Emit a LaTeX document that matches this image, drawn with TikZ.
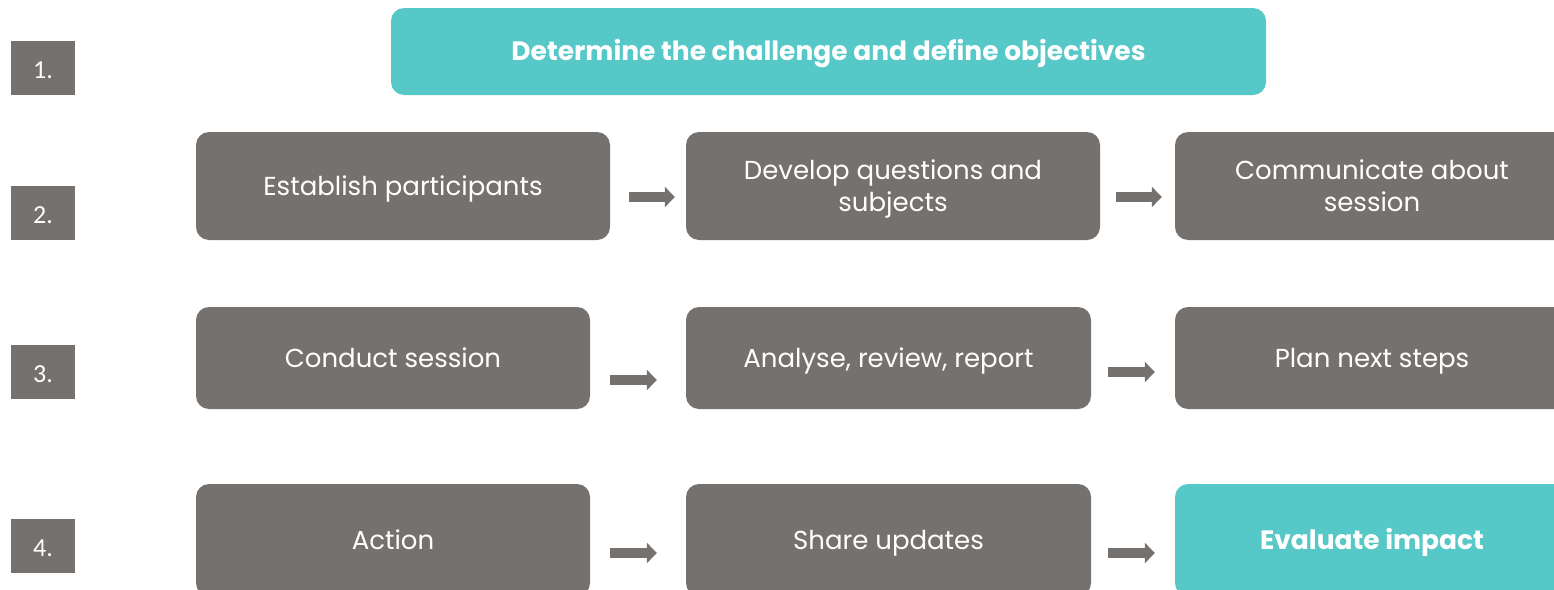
\documentclass[tikz,border=0pt]{standalone}
\usepackage{fontspec}
\setmainfont{Poppins}
\newfontfamily\numfont{Carlito}
\usetikzlibrary{arrows.meta}

\definecolor{stepgray}{HTML}{75716F}
\definecolor{stepteal}{HTML}{57C8C8}

\tikzset{
  box/.style={fill=stepgray, rounded corners=13pt, text=white, align=center,
    inner sep=0pt, font=\fontsize{26}{32}\selectfont},
  keybox/.style={box, fill=stepteal, font=\bfseries\fontsize{26.5}{31}\selectfont},
  % caps centred in the box, for one or two lines of text
  oneline/.style={text height=25.2pt, text depth=7pt},
  twoline/.style={text height=57.2pt, text depth=7pt},
  numbox/.style={fill=stepgray, text=white, minimum width=64pt, minimum height=54pt,
    inner sep=0pt, text height=20pt, text depth=0pt, font=\numfont\fontsize{26}{30}\selectfont},
  flow/.style={draw=stepgray, line width=10pt, -{Triangle[length=10pt,width=20pt]}},
}

\begin{document}
\begin{tikzpicture}[x=1pt,y=-1pt]
    \useasboundingbox (0,0) rectangle (1554,589);
    \clip (0,0) rectangle (1554,589);

    % Step numbers down the left side
    \node[numbox] (n1) at (43,68) {1.};
    \node[numbox] (n2) at (43,213) {2.};
    \node[numbox] (n3) at (43,372) {3.};
    \node[numbox] (n4) at (43,546) {4.};

    % Step 1
    \node[keybox, oneline, minimum width=875pt, minimum height=87pt] (obj) at (828.5,51.5)
        {Determine the challenge and define objectives};

    % Step 2
    \node[box, oneline, minimum width=414pt, minimum height=108pt] (part) at (403,186) {Establish participants};
    \node[box, twoline, minimum width=414pt, minimum height=108pt] (quest) at (893,186) {Develop questions and\\subjects};
    \node[box, twoline, minimum width=394pt, minimum height=108pt] (comm) at (1372,186) {Communicate about\\session};

    % Step 3
    \node[box, oneline, minimum width=394pt, minimum height=102pt] (sess) at (393,358) {Conduct session};
    \node[box, oneline, minimum width=405pt, minimum height=102pt] (anal) at (888.5,358) {Analyse, review, report};
    \node[box, oneline, minimum width=394pt, minimum height=102pt] (plan) at (1372,358) {Plan next steps};

    % Step 4
    \node[box, oneline, minimum width=394pt, minimum height=112pt] (act) at (393,540) {Action};
    \node[box, oneline, minimum width=405pt, minimum height=112pt] (share) at (888.5,540) {Share updates};
    \node[keybox, oneline, minimum width=394pt, minimum height=112pt] (eval) at (1372,540) {Evaluate impact};

    % Arrows between the boxes
    \draw[flow] ([shift={(19,11)}]part.east) -- ([shift={(-11,11)}]quest.west);
    \draw[flow] ([shift={(16,11)}]quest.east) -- ([shift={(-13,11)}]comm.west);
    \draw[flow] ([shift={(20,22)}]sess.east) -- ([shift={(-29,22)}]anal.west);
    \draw[flow] ([shift={(17,14)}]anal.east) -- ([shift={(-20,14)}]plan.west);
    \draw[flow] ([shift={(20,13)}]act.east) -- ([shift={(-29,13)}]share.west);
    \draw[flow] ([shift={(17,13)}]share.east) -- ([shift={(-20,13)}]eval.west);
\end{tikzpicture}
\end{document}
